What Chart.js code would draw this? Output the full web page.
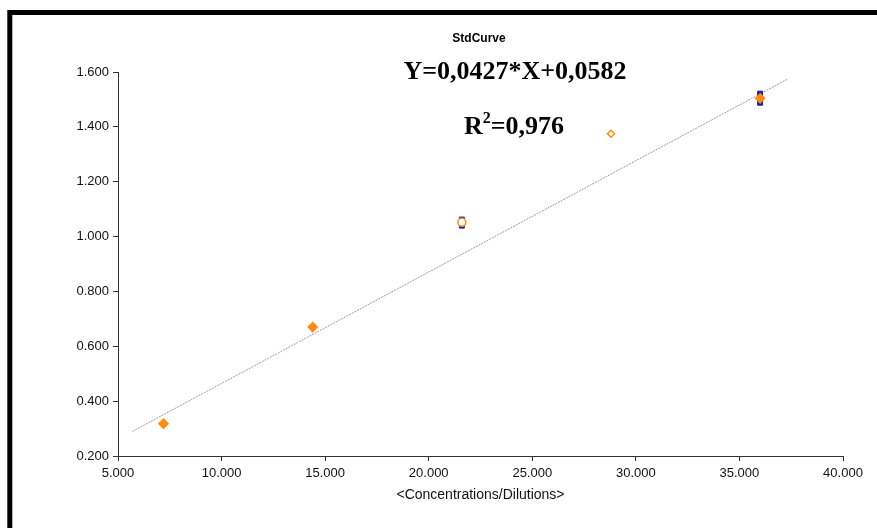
<!DOCTYPE html>
<html>
<head>
<meta charset="utf-8">
<script src="https://cdn.jsdelivr.net/npm/chart.js@4/dist/chart.umd.min.js"></script>
<style>
  body { margin: 0; background: #fff; }
  #wrap { width: 877px; height: 528px; }
</style>
</head>
<body>
<div id="wrap"><canvas id="std-chart" width="877" height="528"></canvas></div>
<script>
// values
const concentrations = [7200, 14400, 21600, 28800, 36000];
const meanOD = [0.318, 0.670, 1.052, 1.375, 1.504];

// replicate readings that show around the means
const replicateX = [21600, 21600, 36000, 36000];
const replicateOD = [1.062, 1.040, 1.521, 1.488];

// trend line ends as drawn
const trendX = [5700, 37350];
const trendY = [0.290, 1.575];

const xTicks = { min: 5000, max: 40000, step: 5000 };
const yTicks = { min: 0.2, max: 1.6, step: 0.2 };

const chartTitle = "StdCurve";
const equationText = "Y=0,0427*X+0,0582";
const r2Value = "=0,976";
const xTitle = "<Concentrations/Dilutions>";

const sansFont = "'Liberation Sans', Arial, sans-serif";
const serifFont = "'Liberation Serif', 'Times New Roman', serif";

const orange = "#ff8c10";
const navy = "#1c1c9c";

// frame and annotation texts
const annotations = {
  id: "annotations",
  afterDraw(chart) {
    const ctx = chart.ctx;
    ctx.save();
    // thick black frame (left and top only are visible)
    ctx.strokeStyle = "#000";
    ctx.lineWidth = 5;
    ctx.beginPath();
    ctx.moveTo(9.8, 540);
    ctx.lineTo(9.8, 12.5);
    ctx.lineTo(890, 12.5);
    ctx.stroke();

    ctx.fillStyle = "#000";
    ctx.textAlign = "center";
    ctx.textBaseline = "middle";
    ctx.font = "bold 12px " + sansFont;
    ctx.fillText(chartTitle, 479, 39);

    ctx.font = "bold 26px " + serifFont;
    ctx.fillText(equationText, 515, 72);

    // R² with raised 2
    ctx.textAlign = "left";
    const big = "bold 26px " + serifFont;
    const small = "bold 16px " + serifFont;
    ctx.font = big;
    const wR = ctx.measureText("R").width;
    const wRest = ctx.measureText(r2Value).width;
    ctx.font = small;
    const w2 = ctx.measureText("2").width;
    let x = 514 - (wR + w2 + wRest) / 2;
    ctx.font = big;
    ctx.fillText("R", x, 127);
    x += wR;
    ctx.font = small;
    ctx.fillText("2", x, 119);
    x += w2;
    ctx.font = big;
    ctx.fillText(r2Value, x, 127);
    ctx.restore();
  }
};

const ctx = document.getElementById("std-chart");
new Chart(ctx, {
  type: "scatter",
  data: {
    datasets: [
      {
        type: "line",
        label: "Trend",
        data: trendX.map((x, i) => ({ x, y: trendY[i] })),
        borderColor: "#9a9a9a",
        borderWidth: 1,
        borderDash: [2, 1],
        pointRadius: 0,
        fill: false,
        order: 3
      },
      {
        label: "Replicates",
        data: replicateX.map((x, i) => ({ x, y: replicateOD[i] })),
        pointStyle: "rect",
        pointRadius: 3.5,
        backgroundColor: navy,
        borderColor: navy,
        borderWidth: 1,
        order: 2
      },
      {
        label: "Mean",
        data: concentrations.map((x, i) => ({ x, y: meanOD[i] })),
        pointStyle: ["rectRot", "rectRot", "circle", "rectRot", "rectRot"],
        pointRadius: [4.5, 4.5, 4, 3.5, 4.5],
        backgroundColor: [orange, orange, "#fff", "#fff", orange],
        borderColor: orange,
        borderWidth: 1.5,
        order: 1
      }
    ]
  },
  options: {
    responsive: false,
    animation: false,
    layout: { padding: { left: 0, right: 34, top: 72, bottom: 0 } },
    plugins: {
      legend: { display: false },
      tooltip: { enabled: false }
    },
    scales: {
      x: {
        type: "linear",
        min: xTicks.min,
        max: xTicks.max,
        afterFit: s => { s.height = 72; },
        ticks: {
          stepSize: xTicks.step,
          padding: 5,
          color: "#111",
          font: { family: sansFont, size: 13 },
          callback: v => v.toLocaleString("de-DE")
        },
        grid: { drawOnChartArea: false, tickLength: 5, color: "#333" },
        border: { color: "#333", width: 1 },
        title: {
          display: true,
          text: xTitle,
          color: "#111",
          font: { family: sansFont, size: 14 },
          padding: { top: 0, bottom: 24 }
        }
      },
      y: {
        min: yTicks.min,
        max: yTicks.max,
        afterFit: s => { s.width = 118; },
        ticks: {
          stepSize: yTicks.step,
          padding: 4,
          color: "#111",
          font: { family: sansFont, size: 13 },
          callback: v => v.toFixed(3)
        },
        grid: { drawOnChartArea: false, tickLength: 5, color: "#333" },
        border: { color: "#333", width: 1 }
      }
    }
  },
  plugins: [annotations]
});
</script>
</body>
</html>
